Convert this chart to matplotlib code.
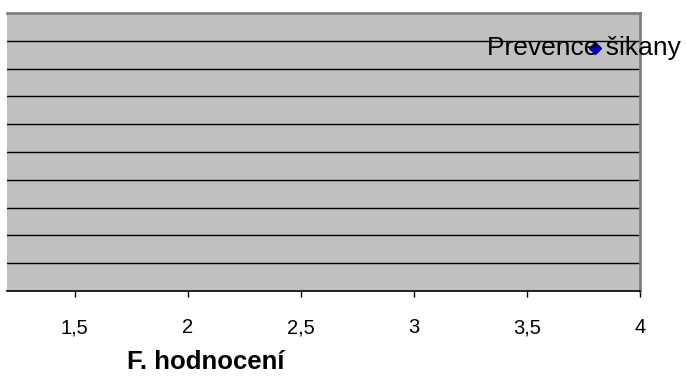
import matplotlib
matplotlib.use("Agg")
import matplotlib.pyplot as plt
from matplotlib.ticker import FixedLocator, FuncFormatter

plt.rcParams['font.family'] = ['Liberation Sans', 'DejaVu Sans']

# data
labels = ["Prevence šikany"]
x_vals = [3.80]
y_vals = [4.37]
x_ticks = [1.5, 2.0, 2.5, 3.0, 3.5, 4.0]
y_grid = [0.5, 1.0, 1.5, 2.0, 2.5, 3.0, 3.5, 4.0, 4.5]
x_title = "F. hodnocení"

fig = plt.figure(figsize=(6.86, 3.76), dpi=100)
ax = fig.add_axes([7 / 686, 1 - 291 / 376, (640 - 7) / 686, (291 - 13) / 376])
ax.set_facecolor("#C0C0C0")
ax.set_xlim(1.2, 4.0)
ax.set_ylim(0, 5)

# horizontal grid lines
for yv in y_grid:
    ax.axhline(yv, color="black", lw=1.0, zorder=1)

# point and its label
ax.plot(x_vals, y_vals, linestyle="none", marker="D", ms=6.5,
        markerfacecolor="#0000FF", markeredgecolor="#000080", zorder=3)
for lab, xv, yv in zip(labels, x_vals, y_vals):
    ax.annotate(lab, (xv, yv), xytext=(-7.5, 0), textcoords="offset points",
                ha="center", va="center", fontsize=19, color="black",
                annotation_clip=False, zorder=4)

# axes frame
ax.spines["left"].set_visible(False)
ax.spines["top"].set_color("#808080")
ax.spines["top"].set_linewidth(2)
ax.spines["right"].set_color("#808080")
ax.spines["right"].set_linewidth(2)
ax.spines["bottom"].set_color("black")
ax.spines["bottom"].set_linewidth(1.2)

ax.xaxis.set_major_locator(FixedLocator(x_ticks))
ax.xaxis.set_major_formatter(FuncFormatter(lambda v, p: f"{v:g}".replace(".", ",")))
ax.tick_params(axis="x", direction="out", length=4.5, width=1, color="black",
               labelsize=14.5, pad=15)
ax.set_yticks([])

fig.text(206 / 686, 1 - 362 / 376, x_title, ha="center", va="center",
         fontsize=18.5, fontweight="bold")

fig.savefig("out.png", dpi=100)
